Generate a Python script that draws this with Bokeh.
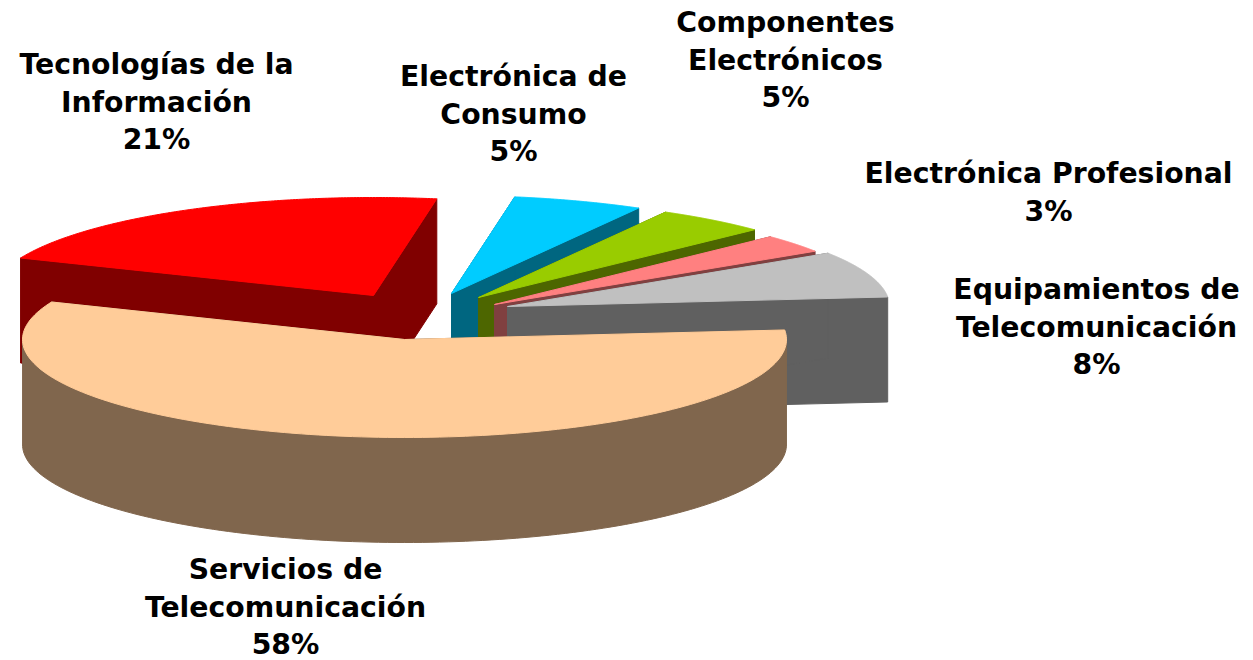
import numpy as np
from bokeh.plotting import figure
from bokeh.embed import file_html
from bokeh.resources import INLINE
from bokeh.core.properties import value

categories = ["Tecnologías de la\nInformación", "Electrónica de\nConsumo", "Componentes\nElectrónicos",
              "Electrónica Profesional", "Equipamientos de\nTelecomunicación", "Servicios de\nTelecomunicación"]
percent_labels = ["21%", "5%", "5%", "3%", "8%", "58%"]
# slice sizes (the printed labels are rounded)
values = [21.4, 5.5, 4.7, 3.0, 7.6, 57.8]
top_colors = ["#FF0000", "#00CCFF", "#99CC00", "#FF8080", "#C0C0C0", "#FFCC99"]
side_colors = ["#800000", "#006680", "#4D6600", "#804040", "#606060", "#80664D"]

START = 202.5
RX, RY, DEPTH = 382, 98, 105
centers = [(373, 295), (451, 293), (478, 297), (494, 304), (507, 306), (404, 339)]
# centre x and y of the first line of each label
label_xy = [(156, 64), (513, 76), (785, 22), (1048, 173), (1096, 289), (285, 569)]
LINE_STEP = 37.7
FONT = "DejaVu Sans"

p = figure(width=1253, height=660, x_range=(0, 1253), y_range=(660, 0),
           toolbar_location=None, output_backend="svg", min_border=0)
p.axis.visible = False
p.grid.visible = False
p.outline_line_color = None

a0 = START
for i, v in enumerate(values):
    a1 = a0 + v * 3.6
    t = np.radians(np.linspace(a0, a1, 160))
    cx, cy = centers[i]
    ax = cx + RX * np.cos(t)
    ay = cy + RY * np.sin(t)
    # radial walls
    for k in (-1, 0):
        p.patch([cx, ax[k], ax[k], cx], [cy, ay[k], ay[k] + DEPTH, cy + DEPTH],
                fill_color=side_colors[i], line_color=side_colors[i])
    # outer wall, only the part of the rim that faces the viewer
    front = np.sin(t) >= 0
    if front.any():
        fx, fy = ax[front], ay[front]
        p.patch(np.r_[fx, fx[::-1]], np.r_[fy, fy[::-1] + DEPTH],
                fill_color=side_colors[i], line_color=side_colors[i])
    # top
    p.patch(np.r_[cx, ax], np.r_[cy, ay], fill_color=top_colors[i], line_color=top_colors[i])
    a0 = a1

lx, ly, txt = [], [], []
for (x, y), c, pct in zip(label_xy, categories, percent_labels):
    for j, line in enumerate(c.split("\n") + [pct]):
        lx.append(x)
        ly.append(y + j * LINE_STEP)
        txt.append(line)
p.text(lx, ly, text=txt, text_align="center", text_baseline="alphabetic",
       text_font=value(FONT), text_font_style="bold", text_font_size="28.3px",
       text_color="#000000")

open("out.html", "w").write(file_html(p, INLINE))
